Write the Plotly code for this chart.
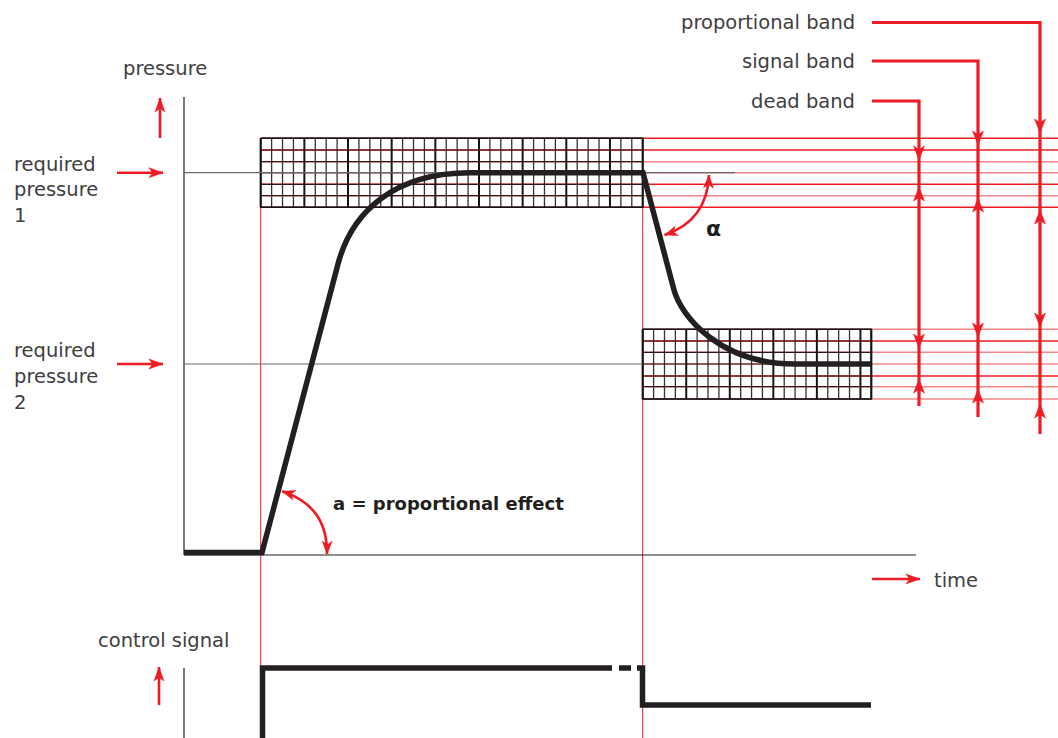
import numpy as np
import plotly.graph_objects as go

W, H = 1058, 738
RED = "#ed1c24"
PINK = "#f3878d"
INK = "#231f20"
TEXT = "#404040"
FONT = "DejaVu Sans"

# pressure response (diagram units = pixels, y grows downward);
# the two bends are cubic Bezier sections, given by their control points
curve_cmd = ["M", "L", "L", "C", "", "", "L", "L", "C", "", "", "L"]
curve_x = [184, 262, 338, 352, 395, 470, 643, 674, 681, 720, 795, 871]
curve_y = [552.5, 552.5, 264, 211, 172.7, 172.7, 172.7, 290, 316, 364, 364, 364]

# control signal
signal_x = [262.5, 262.5, 612]
signal_y = [738, 668, 668]
signal_dash_x = [619, 631]
signal_step_x = [637, 642.5, 642.5, 871]
signal_step_y = [668, 668, 705, 705]

# required pressures and the bands around them
req_levels = [172.7, 364]
req_line_end = [735, 642.7]
upper_levels = [138.3, 150, 161.7, 172.7, 184.3, 195.7, 207.3]
lower_levels = [329.3, 341, 352.3, 364, 376, 386.7, 399]
upper_colors = [RED, RED, PINK, PINK, RED, PINK, RED]
lower_colors = [PINK, RED, PINK, PINK, RED, PINK, PINK]
upper_grid = (260.7, 642.7, 35)
lower_grid = (642.7, 871.3, 21)

band_names = ["dead band", "signal band", "proportional band"]
band_x = [919, 978, 1040]
band_label_y = [101, 61, 22.5]
band_bottom = [406, 417, 434]
band_up_down_tip = [160, 145, 133]
band_up_up_tip = [187, 198, 210]
band_lo_down_tip = [348, 337, 327]
band_lo_up_tip = [379, 389, 404]

# angle arcs: centre x, centre y, radius, start angle, end angle (deg, y down)
arc_alpha = (643, 172.7, 66, 2, 71)
arc_a = (262, 553, 65, -72, 1)


def head(tip_x, tip_y, dx, dy, length=13, half=5, notch=3.5):
    n = np.hypot(dx, dy)
    dx, dy = dx / n, dy / n
    bx, by = tip_x - dx * length, tip_y - dy * length
    px, py = -dy * half, dx * half
    cx, cy = tip_x - dx * (length - notch), tip_y - dy * (length - notch)
    return ([tip_x, bx + px, cx, bx - px, tip_x, None],
            [tip_y, by + py, cy, by - py, tip_y, None])


heads_x, heads_y = [], []


def add_head(*args, **kw):
    hx, hy = head(*args, **kw)
    heads_x.extend(hx)
    heads_y.extend(hy)


fig = go.Figure()


def line(x, y, color=INK, width=1):
    fig.add_trace(go.Scatter(x=x, y=y, mode="lines", hoverinfo="skip",
                             line=dict(color=color, width=width)))


# red time markers
for vx in [upper_grid[0], upper_grid[1]]:
    line([vx, vx], [upper_levels[-1], H], RED, 1)

# red band lines running to the right edge
for lv, c in zip(upper_levels, upper_colors):
    line([upper_grid[0], W], [lv, lv], c, 1.6)
for lv, c in zip(lower_levels, lower_colors):
    line([lower_grid[0], W], [lv, lv], c, 1.6)

# the two grids
for (x0, x1, ncol), levels in [(upper_grid, upper_levels), (lower_grid, lower_levels)]:
    step = (x1 - x0) / ncol
    thin_x, thin_y, thick_x, thick_y = [], [], [], []
    for i in range(ncol + 1):
        gx = x0 + i * step
        if i % 4 == 0 or i == ncol:
            thick_x += [gx, gx, None]
            thick_y += [levels[0], levels[-1], None]
        else:
            thin_x += [gx, gx, None]
            thin_y += [levels[0], levels[-1], None]
    hx, hy = [], []
    for lv in levels:
        hx += [x0, x1, None]
        hy += [lv, lv, None]
    line(thin_x, thin_y, "#333333", 1.3)
    line(hx, hy, "#2e1414", 1.2)
    line(thick_x, thick_y, "#151515", 2)
    line([x0, x1, x1, x0, x0], [levels[0], levels[0], levels[-1], levels[-1], levels[0]], "#151515", 1.6)

# axes
line([184, 184], [97, 555], INK, 1.2)
line([184, 916], [555, 555], INK, 1.2)
line([184, 184], [668, H], INK, 1.2)
for lv, end in zip(req_levels, req_line_end):
    line([184, end], [lv, lv], "#6a6a6a", 1.2)

# band indicators
for bx, ly, bb in zip(band_x, band_label_y, band_bottom):
    line([872, bx, bx], [ly, ly, bb], RED, 3.2)
for bx, a, b, c, d in zip(band_x, band_up_down_tip, band_up_up_tip, band_lo_down_tip, band_lo_up_tip):
    add_head(bx, a, 0, 1, 14, 5.5)
    add_head(bx, b, 0, -1, 14, 5.5)
    add_head(bx, c, 0, 1, 14, 5.5)
    add_head(bx, d, 0, -1, 14, 5.5)

# label arrows
label_arrows = [((160, 138), (160, 98)), ((117, 172.7), (163, 172.7)),
                ((117, 364), (163, 364)), ((872, 579), (920, 579)),
                ((159, 705), (159, 667))]
for (tx, ty), (hx_, hy_) in label_arrows:
    line([tx, hx_], [ty, hy_], RED, 2.6)
    add_head(hx_, hy_, hx_ - tx, hy_ - ty, 14, 5)

# angle arcs
shapes = []
for cx, cy, r, a0, a1 in [arc_alpha, arc_a]:
    t0, t1 = np.radians(a0), np.radians(a1)
    tm = (t0 + t1) / 2
    rc = r / np.cos((t1 - t0) / 2)
    p0 = (cx + r * np.cos(t0), cy + r * np.sin(t0))
    p1 = (cx + r * np.cos(t1), cy + r * np.sin(t1))
    q = (cx + rc * np.cos(tm), cy + rc * np.sin(tm))
    shapes.append(dict(type="path", xref="x", yref="y",
                       path=f"M{p0[0]},{p0[1]} Q{q[0]},{q[1]} {p1[0]},{p1[1]}",
                       line=dict(color=RED, width=2.6)))
    add_head(p0[0], p0[1], np.sin(t0), -np.cos(t0), 13, 5)
    add_head(p1[0], p1[1], -np.sin(t1), np.cos(t1), 13, 5)

fig.add_trace(go.Scatter(x=heads_x, y=heads_y, mode="lines", fill="toself",
                         fillcolor=RED, line=dict(color=RED, width=0.5), hoverinfo="skip"))

# pressure curve
path = " ".join(f"{c}{x},{y}" if c else f"{x},{y}"
                for c, x, y in zip(curve_cmd, curve_x, curve_y))
shapes.append(dict(type="path", xref="x", yref="y", path=path,
                   line=dict(color=INK, width=5.5)))

# control signal
line(signal_x, signal_y, INK, 5.5)
line(signal_dash_x, [668, 668], INK, 5.5)
line(signal_step_x, signal_step_y, INK, 5.5)

# texts
texts = [
    ("pressure", 164.5, 68, "center"),
    ("required", 12, 164, "left"), ("pressure", 12, 189.5, "left"), ("1", 12, 215, "left"),
    ("required", 12, 350, "left"), ("pressure", 12, 376.5, "left"), ("2", 12, 402, "left"),
    ("time", 932, 580, "left"),
    ("control signal", 163, 640, "center"),
]
for name, ly in zip(band_names, band_label_y):
    texts.append((name, 857, ly, "right"))

annotations = [dict(text=t, x=x, y=y, xref="x", yref="y", showarrow=False,
                    xanchor=anc, yanchor="middle",
                    font=dict(family=FONT, size=19.5, color=TEXT))
               for t, x, y, anc in texts]
annotations.append(dict(text="<b>a = proportional effect</b>", x=448, y=503.5, xref="x", yref="y",
                        showarrow=False, xanchor="center", yanchor="middle",
                        font=dict(family=FONT, size=18, color=INK)))
annotations.append(dict(text="<b>α</b>", x=713, y=228, xref="x", yref="y",
                        showarrow=False, xanchor="center", yanchor="middle",
                        font=dict(family=FONT, size=22, color=INK)))

fig.update_layout(
    width=W, height=H,
    margin=dict(l=0, r=0, t=0, b=0),
    paper_bgcolor="white", plot_bgcolor="white",
    showlegend=False,
    xaxis=dict(range=[0, W], visible=False, fixedrange=True),
    yaxis=dict(range=[H, 0], visible=False, fixedrange=True),
    shapes=shapes,
    annotations=annotations,
)

fig.write_html("out.html", config={"displayModeBar": False},
               post_script="document.body.style.margin='0';")
